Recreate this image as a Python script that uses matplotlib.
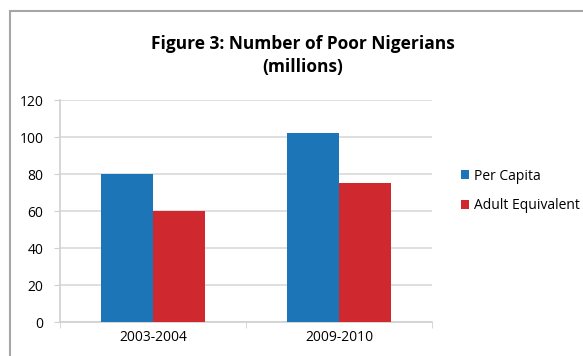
import matplotlib
matplotlib.use('Agg')
import matplotlib.pyplot as plt
from matplotlib.patches import Rectangle
import numpy as np

plt.rcParams['font.family'] = ['Open Sans', 'DejaVu Sans']

# data
periods = ["2003-2004", "2009-2010"]
per_capita = [80, 102]
adult_equiv = [60, 75]
series_names = ["Per Capita", "Adult Equivalent"]
yticks = [0, 20, 40, 60, 80, 100, 120]

blue = "#1b75b6"
red = "#d0282f"

fig = plt.figure(figsize=(5.83, 3.56), dpi=100)
ax = fig.add_axes([0.103, 0.0955, 0.638, 0.6236])

# outer gray frame like the original
fig.patches.append(Rectangle((10 / 583, -0.05), 1.0, 1.05 - 11 / 356,
                             transform=fig.transFigure, fill=False,
                             edgecolor="#a6a6a6", linewidth=1.5))

x = np.arange(len(periods))
w = 0.28
ax.bar(x - w / 2, per_capita, w, color=blue, label=series_names[0], zorder=3)
ax.bar(x + w / 2, adult_equiv, w, color=red, label=series_names[1], zorder=3)

ax.set_xlim(-0.5, 1.5)
ax.set_ylim(0, 120)
ax.set_yticks(yticks)
ax.yaxis.grid(True, color="#d9d9d9", linewidth=1.2, zorder=0)
ax.set_xticks(x)
ax.set_xticklabels(periods, fontsize=10)
ax.set_xticks([-0.5, 0.5, 1.5], minor=True)
ax.tick_params(axis='x', which='major', length=0, pad=6)
ax.tick_params(axis='x', which='minor', length=4, color="#d0d0d0")
ax.tick_params(axis='y', length=4, color="#d0d0d0", labelsize=10, pad=8)

for s in ["top", "right"]:
    ax.spines[s].set_visible(False)
ax.spines["left"].set_color("#d0d0d0")
ax.spines["bottom"].set_color("#d0d0d0")
ax.spines["left"].set_linewidth(1.2)
ax.spines["bottom"].set_linewidth(1.2)

fig.text(303 / 583, 1 - 44 / 356, "Figure 3: Number of Poor Nigerians",
         ha="center", va="center", fontsize=12.5, fontweight="bold")
fig.text(303 / 583, 1 - 67 / 356, "(millions)",
         ha="center", va="center", fontsize=12.5, fontweight="bold")

ax.legend(loc="upper left", bbox_to_anchor=(455 / 583, 1 - 163 / 356),
          bbox_transform=fig.transFigure, frameon=False, fontsize=10,
          handlelength=0.6, handleheight=0.6, handletextpad=0.35,
          labelspacing=1.05, borderaxespad=0)

fig.savefig("out.png", dpi=100)
